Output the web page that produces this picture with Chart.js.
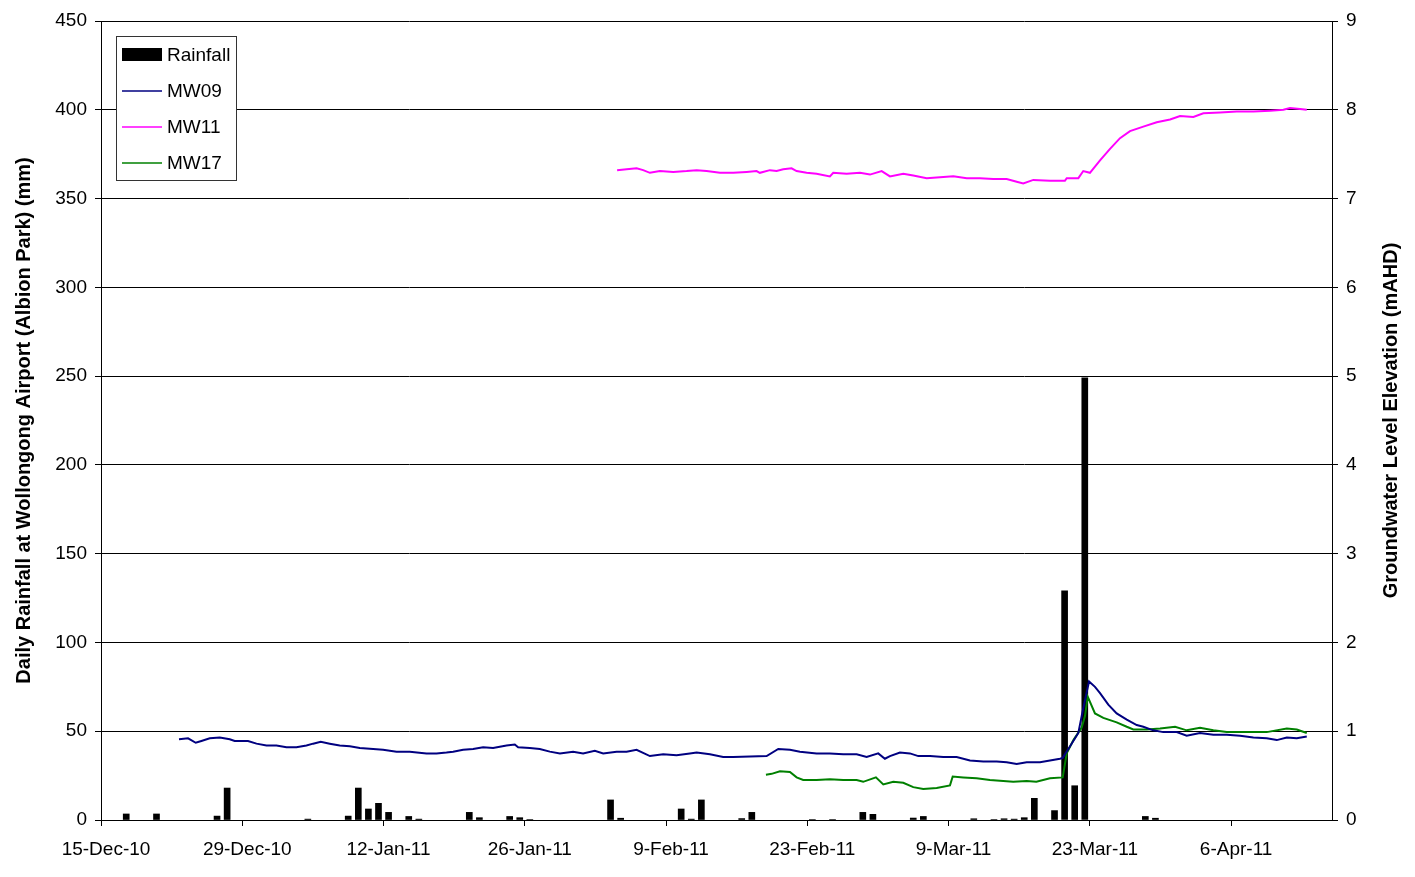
<!DOCTYPE html>
<html lang="en">
<head>
  <meta charset="UTF-8" />
  <title>Rainfall and Groundwater Levels</title>
  <script src="https://cdn.jsdelivr.net/npm/chart.js"></script>
  <style>
    html, body { margin: 0; padding: 0; background: #fff; }
    canvas { display: block; }
  </style>
</head>
<body>
  <canvas id="grafico" width="1415" height="877"></canvas>

  <script>
    // x values are days counted from 15-Dec-10
    const xTickDays = [0, 14, 28, 42, 56, 70, 84, 98, 112];
    const xTickLabels = ['15-Dec-10', '29-Dec-10', '12-Jan-11', '26-Jan-11', '9-Feb-11', '23-Feb-11', '9-Mar-11', '23-Mar-11', '6-Apr-11'];

    // daily rainfall (mm)
    const rainDays = [2, 5, 11, 12, 20, 24, 25, 26, 27, 28, 30, 31, 36, 37, 40, 41, 42, 50, 51, 57, 58, 59, 63, 64, 70, 72, 75, 76, 80, 81, 86, 88, 89, 90, 91, 92, 94, 95, 96, 97, 103, 104];
    const rainMm = [3.4, 3.4, 2.2, 18, 0.5, 2.2, 18, 6.2, 9.4, 4.3, 2, 0.5, 4.3, 1.3, 2, 1.3, 0.3, 11.3, 1, 6.2, 0.5, 11.3, 0.8, 4.3, 0.3, 0.3, 4.3, 3.2, 1.1, 2, 0.7, 0.3, 0.7, 0.5, 1.3, 12.2, 5.3, 129, 19.3, 249, 2, 1];

    // groundwater levels (mAHD), [day, level]
    const mw09 = [[7.73,0.91],[8.63,0.92],[9.39,0.87],[9.95,0.89],[10.78,0.92],[11.77,0.93],[12.76,0.91],[13.25,0.89],[14.57,0.89],[15.41,0.86],[16.40,0.84],[17.39,0.84],[18.38,0.82],[19.37,0.82],[20.36,0.84],[21.02,0.86],[21.78,0.88],[22.67,0.86],[23.66,0.84],[24.66,0.83],[25.65,0.81],[26.97,0.80],[27.96,0.79],[29.29,0.77],[30.60,0.77],[32.26,0.75],[33.25,0.75],[34.24,0.76],[34.90,0.77],[35.89,0.79],[36.88,0.80],[37.87,0.82],[38.86,0.81],[40.19,0.84],[41.01,0.85],[41.34,0.82],[42.50,0.81],[43.49,0.80],[44.48,0.77],[45.48,0.75],[46.79,0.77],[47.78,0.75],[48.94,0.78],[49.77,0.75],[51.10,0.77],[52.09,0.77],[53.08,0.79],[54.40,0.72],[55.72,0.74],[57.04,0.73],[58.36,0.75],[59.03,0.76],[60.35,0.74],[61.66,0.71],[62.66,0.71],[65.97,0.72],[67.12,0.80],[68.28,0.79],[69.27,0.77],[70.92,0.75],[72.24,0.75],[73.56,0.74],[74.89,0.74],[75.88,0.71],[77.03,0.75],[77.69,0.69],[78.19,0.72],[79.18,0.76],[80.17,0.75],[81.00,0.72],[82.16,0.72],[83.47,0.71],[84.80,0.71],[86.12,0.67],[87.44,0.66],[88.77,0.66],[89.76,0.65],[90.75,0.63],[91.74,0.65],[93.06,0.65],[95.04,0.69],[95.31,0.70],[96.04,0.83],[96.86,0.98],[97.19,1.17],[97.52,1.35],[97.92,1.56],[98.51,1.50],[99.01,1.43],[99.83,1.30],[100.66,1.20],[101.66,1.13],[102.65,1.07],[103.30,1.05],[104.29,1.01],[105.28,0.99],[106.61,0.99],[107.60,0.95],[108.92,0.98],[110.24,0.96],[111.57,0.96],[112.89,0.95],[114.21,0.93],[115.53,0.92],[116.53,0.90],[117.52,0.93],[118.51,0.92],[119.50,0.94]];
    const mw11 = [[51.15,7.32],[52.09,7.33],[53.08,7.34],[53.73,7.32],[54.40,7.29],[55.39,7.31],[56.71,7.30],[58.04,7.31],[59.03,7.32],[60.02,7.31],[61.34,7.29],[62.66,7.29],[63.98,7.30],[64.97,7.31],[65.30,7.29],[66.29,7.32],[66.96,7.31],[67.61,7.33],[68.44,7.34],[68.94,7.31],[69.93,7.29],[70.92,7.28],[72.24,7.25],[72.57,7.29],[73.90,7.28],[75.22,7.29],[76.21,7.27],[77.37,7.31],[78.19,7.25],[79.51,7.28],[80.50,7.26],[81.83,7.23],[83.15,7.24],[84.47,7.25],[85.80,7.23],[87.11,7.23],[88.43,7.22],[89.76,7.22],[90.75,7.19],[91.40,7.17],[92.40,7.21],[94.05,7.20],[95.53,7.20],[95.71,7.23],[96.86,7.23],[97.35,7.31],[98.01,7.29],[99.01,7.43],[100.00,7.56],[100.99,7.68],[101.98,7.76],[103.30,7.81],[104.63,7.86],[105.95,7.89],[106.94,7.93],[108.26,7.92],[109.25,7.96],[110.91,7.97],[112.56,7.98],[114.21,7.98],[115.87,7.99],[117.18,8.00],[117.84,8.02],[118.83,8.01],[119.50,8.00]];
    const mw17 = [[65.90,0.51],[66.46,0.52],[67.29,0.55],[68.28,0.54],[68.94,0.48],[69.59,0.45],[70.92,0.45],[72.24,0.46],[73.56,0.45],[74.89,0.45],[75.54,0.43],[76.80,0.48],[77.53,0.40],[78.52,0.43],[79.51,0.42],[80.50,0.37],[81.49,0.35],[82.82,0.36],[84.14,0.39],[84.41,0.49],[85.46,0.48],[86.78,0.47],[88.10,0.45],[89.42,0.44],[90.41,0.43],[91.74,0.44],[92.70,0.43],[94.05,0.47],[95.31,0.48],[95.71,0.75],[96.37,0.90],[97.19,1.04],[97.52,1.17],[97.79,1.39],[98.51,1.20],[99.34,1.15],[100.66,1.10],[101.66,1.05],[102.31,1.02],[103.64,1.02],[104.96,1.03],[106.45,1.05],[107.60,1.01],[108.92,1.04],[110.24,1.01],[111.57,0.99],[112.89,0.99],[114.21,0.99],[115.53,0.99],[117.52,1.03],[118.51,1.02],[119.50,0.98]];

    const fontFamily = '"Liberation Sans", Arial, sans-serif';
    Chart.defaults.font.family = fontFamily;
    Chart.defaults.color = '#000';

    const toPoints = arr => arr.map(p => ({ x: p[0], y: p[1] }));

    // legend box inside the plot, top left
    const legendBox = {
      id: 'legendBox',
      afterDraw(chart) {
        const { ctx, chartArea } = chart;
        const x = chartArea.left + 15, y = chartArea.top + 15;
        ctx.save();
        ctx.fillStyle = '#fff';
        ctx.fillRect(x, y, 120, 144);
        ctx.strokeStyle = '#333';
        ctx.lineWidth = 1;
        ctx.strokeRect(x + 0.5, y + 0.5, 120, 144);
        ctx.font = '19px ' + fontFamily;
        ctx.textBaseline = 'middle';
        chart.data.datasets.forEach((ds, i) => {
          const cy = y + 19 + i * 36;
          if (ds.type === 'bar') {
            ctx.fillStyle = ds.backgroundColor;
            ctx.fillRect(x + 6, cy - 7, 40, 13);
          } else {
            ctx.strokeStyle = ds.borderColor;
            ctx.lineWidth = 1.5;
            ctx.beginPath();
            ctx.moveTo(x + 6, cy);
            ctx.lineTo(x + 46, cy);
            ctx.stroke();
          }
          ctx.fillStyle = '#000';
          ctx.fillText(ds.label, x + 51, cy + 1);
        });
        ctx.restore();
      }
    };

    // right axis title reads bottom to top, like the left one
    const rightTitle = {
      id: 'rightTitle',
      afterDraw(chart) {
        const { ctx, chartArea } = chart;
        ctx.save();
        ctx.translate(chart.scales.y1.right - 24, (chartArea.top + chartArea.bottom) / 2);
        ctx.rotate(-Math.PI / 2);
        ctx.font = 'bold 20px ' + fontFamily;
        ctx.textAlign = 'center';
        ctx.textBaseline = 'middle';
        ctx.fillStyle = '#000';
        ctx.fillText('Groundwater Level Elevation (mAHD)', 0, 0);
        ctx.restore();
      }
    };

    const ctx = document.getElementById('grafico').getContext('2d');
    new Chart(ctx, {
      type: 'bar',
      data: {
        datasets: [
          {
            label: 'Rainfall',
            type: 'bar',
            data: rainDays.map((d, i) => ({ x: d + 0.5, y: rainMm[i] })),
            backgroundColor: '#000',
            barThickness: 6,
            yAxisID: 'y',
            order: 1
          },
          { label: 'MW09', type: 'line', data: toPoints(mw09), borderColor: '#000080', borderWidth: 2, pointRadius: 0, yAxisID: 'y1', order: 0 },
          { label: 'MW11', type: 'line', data: toPoints(mw11), borderColor: '#ff00ff', borderWidth: 2, pointRadius: 0, yAxisID: 'y1', order: 0 },
          { label: 'MW17', type: 'line', data: toPoints(mw17), borderColor: '#008000', borderWidth: 2, pointRadius: 0, yAxisID: 'y1', order: 0 }
        ]
      },
      options: {
        responsive: false,
        animation: false,
        layout: { padding: { top: 21, left: 0, right: 0, bottom: 0 } },
        plugins: { legend: { display: false }, tooltip: { enabled: false } },
        scales: {
          x: {
            type: 'linear',
            min: 0,
            max: 122,
            offset: false,
            afterBuildTicks: s => { s.ticks = xTickDays.map(v => ({ value: v })); },
            ticks: { callback: (v, i) => xTickLabels[i], font: { size: 19 }, padding: 12, labelOffset: 5, maxRotation: 0, autoSkip: false },
            grid: { offset: false, drawOnChartArea: false, tickLength: 6, color: '#000' },
            border: { color: '#000' },
            afterFit: s => { s.height = 57; }
          },
          y: {
            position: 'left',
            min: 0,
            max: 450,
            ticks: { stepSize: 50, padding: 8, font: { size: 19 } },
            grid: { color: '#000', tickLength: 6 },
            border: { color: '#000' },
            title: {
              display: true,
              text: 'Daily Rainfall at Wollongong Airport (Albion Park) (mm)',
              font: { size: 20, weight: 'bold' },
              padding: { top: 12, bottom: 0 }
            },
            afterFit: s => { s.width = 101; }
          },
          y1: {
            position: 'right',
            min: 0,
            max: 9,
            ticks: { stepSize: 1, padding: 8, font: { size: 19 } },
            grid: { drawOnChartArea: false, tickLength: 6, color: '#000' },
            border: { color: '#000' },
            afterFit: s => { s.width = 83; }
          }
        }
      },
      plugins: [legendBox, rightTitle]
    });
  </script>
</body>
</html>
